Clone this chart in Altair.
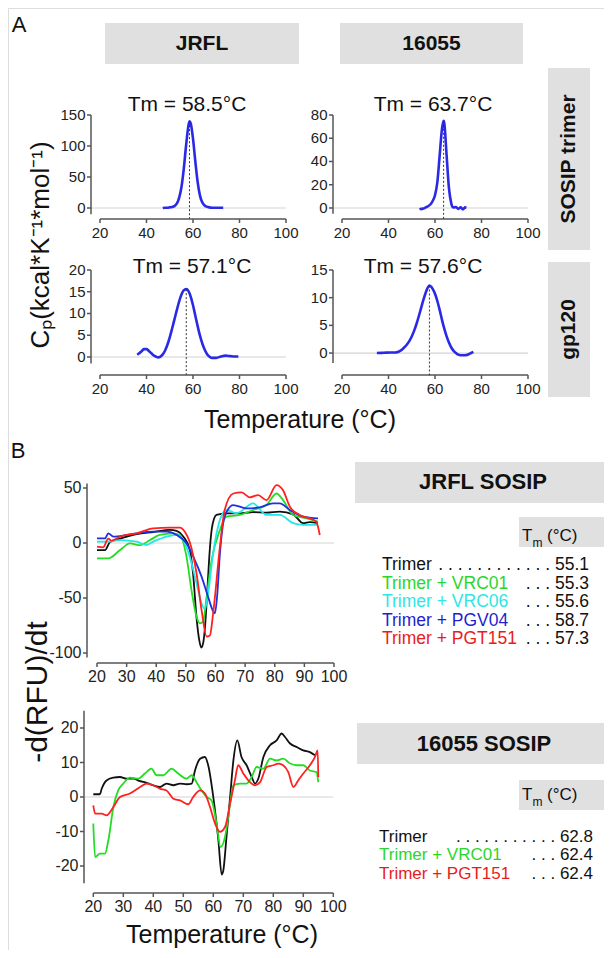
import altair as alt
import pandas as pd

FONT = "Liberation Sans"
W, H = 596, 942
BOX_GRAY = "#e0e0e0"
A_BLUE = "#2a2ae6"
AXIS_COL = "#555555"
LABEL_COL = "#222222"

# ---------------- Panel A data (Cp vs temperature) ----------------
A_X_TICKS = [20, 40, 60, 80, 100]

TL_T = [47, 48, 49, 50, 51, 52, 53, 54, 55, 56, 57, 58, 58.5, 59, 60, 61, 62, 63, 64, 65, 66, 67, 68, 70, 73]
TL_V = [0, 0.5, 0.5, 1, 1.5, 3, 7, 16, 33, 62, 100, 132, 140, 137, 112, 75, 42, 20, 9, 4, 2, 1, 0.5, 0.3, 0.3]

TR_T = [53.5, 54, 55, 56, 57, 58, 59, 60, 61, 62, 63, 63.7, 64, 65, 66, 67, 67.5, 68, 69, 70, 71, 72, 73, 73.5]
TR_V = [0, -1, -0.5, 0.5, 1.5, 3, 6, 11, 22, 45, 68, 75, 73, 45, 17, 4, 1, 0.5, 0.8, -0.8, 0.5, -1.2, 0.5, 0.3]

BL_T = [36, 37, 38, 39, 40, 41, 42, 43, 44, 45, 46, 47, 48, 49, 50, 51, 52, 53, 54, 55, 56, 57.1,
        58, 59, 60, 61, 62, 63, 64, 65, 66, 67, 68, 70, 72, 74, 76, 78, 79.5]
BL_V = [0.5, 0.9, 1.4, 1.8, 1.8, 1.4, 0.9, 0.4, 0.1, -0.1, 0.1, 0.6, 1.5, 2.8, 4.5, 6.5, 8.6, 10.7, 12.7, 14.3, 15.3, 15.6,
        15.2, 13.9, 11.9, 9.5, 7.1, 4.9, 3.1, 1.7, 0.7, 0.1, -0.2, -0.2, 0.1, 0.3, 0.2, 0.1, 0.1]

BR_T = [35, 38, 41, 43, 44, 45, 46, 47, 48, 49, 50, 51, 52, 53, 54, 55, 56, 57, 57.6,
        58, 59, 60, 61, 62, 63, 64, 65, 66, 67, 68, 69, 70, 71, 72, 73, 74, 75, 76.5]
BR_V = [0, 0.05, 0.1, 0.1, 0.2, 0.4, 0.7, 1.1, 1.6, 2.2, 3.0, 4.0, 5.2, 6.6, 8.1, 9.6, 10.9, 11.9, 12.2,
        12.1, 11.6, 10.7, 9.4, 7.8, 6.0, 4.4, 3.0, 1.9, 1.0, 0.4, 0.0, -0.3, -0.4, -0.4, -0.4, -0.3, -0.1, 0.2]

A_TM = [58.5, 63.7, 57.1, 57.6]
A_PEAK = [140, 75, 15.6, 12.2]
A_RULE_BOTTOM = [-17, -9.5, -4.1, -4.0]
A_TITLES = ["Tm = 58.5°C", "Tm = 63.7°C", "Tm = 57.1°C", "Tm = 57.6°C"]
A_YDOMAINS = [[-10, 150], [-5, 80], [-1.5, 20], [-1.8, 15]]
A_YTICKS = [[0, 50, 100, 150], [0, 20, 40, 60, 80], [0, 5, 10, 15, 20], [0, 5, 10, 15]]

# ---------------- Panel B data (-d(RFU)/dt vs temperature) ----------------
B_X_TICKS = [20, 30, 40, 50, 60, 70, 80, 90, 100]
BT_YDOMAIN = [-104, 54]
BT_YTICKS = [-100, -50, 0, 50]
BB_YDOMAIN = [-25, 25]
BB_YTICKS = [-20, -10, 0, 10, 20]

JT_BLACK_T = [20, 22.7, 24.4, 27.8, 33.4, 39.0, 44.6, 46.9, 49.1, 51.3, 52.5, 53.6, 54.5, 55.2, 55.9, 56.5, 57.3, 58.1,
              58.7, 59.5, 60.3, 63.7, 68.2, 72.7, 77.2, 81.7, 86.2, 89.6, 91.8, 94.6]
JT_BLACK_V = [-6.4, -6.4, 1, 4, 8, 10, 12, 11, 6, -6, -30, -68, -88, -95, -90, -75, -40, -5,
              12, 22, 25.5, 27, 27, 28, 27.6, 28.5, 26, 18, 19, 18]
JT_GREEN_T = [20, 23.8, 27.8, 31.1, 34.5, 37.9, 41.2, 45.7, 48.0, 50.2, 51.9, 53.6, 54.7, 55.8, 57.0, 58.7, 61.5,
              63.7, 68.2, 72.7, 77.2, 80.6, 82.8, 86.2, 90.7, 94.6]
JT_GREEN_V = [-14, -14, -6.4, -0.3, -2, 2.7, 7.3, 8.8, 7.3, -12.4, -43, -67, -73, -71.5, -49, -15.5, 11.8,
              24, 25.5, 30, 34.5, 45, 39, 25.5, 22.4, 19.4]
JT_CYAN_T = [20, 23.3, 27.8, 33.4, 36.7, 39.0, 43.5, 46.9, 49.1, 51.3, 53.6, 55.3, 56.4, 57.5, 59.2, 61.5, 63.7,
             67.1, 72.7, 77.2, 81.7, 86.2, 89.6, 94.6]
JT_CYAN_V = [1.2, 1.2, 2.7, 1.2, -1.8, 1.2, 5.8, 7.3, 2.7, -12.4, -36.7, -55, -60, -45.8, -9.4, 21, 30,
             27, 36, 25.5, 25.5, 18, 16.4, 16.4]
JT_BLUE_T = [20, 22.7, 23.8, 25.5, 30.0, 33.4, 39.0, 43.5, 46.9, 50.2, 52.5, 55.3, 57.5, 59.2, 59.8, 60.5, 61.5,
             63.1, 66.0, 70.4, 74.9, 79.4, 81.7, 85.1, 89.6, 94.6]
JT_BLUE_V = [4.2, 4.2, 8.8, 5.8, 7.3, 8.8, 10.3, 10.3, 7.3, -0.3, -12.4, -30.6, -49, -62, -64, -50, -9.4,
             24, 34.5, 31.5, 32.4, 36, 36, 30, 24, 22.4]
JT_RED_T = [20, 22.1, 23.8, 24.9, 27.8, 33.4, 39.0, 44.6, 48.0, 49.7, 51.3, 53.6, 55.3, 57.0, 58.1, 59.2, 61.5,
            63.1, 66.0, 68.8, 71.6, 74.4, 77.2, 80.6, 82.8, 85.1, 88.4, 91.8, 94.0, 95.2]
JT_RED_V = [-3.3, -3.9, 4, 2, 5.8, 8.8, 13.3, 14, 14, 10, 1, -27.6, -61, -85, -84, -64, -3,
            30, 45, 46, 41.5, 43.6, 39, 52.7, 48, 33, 25.5, 22.4, 19.4, 7.3]

ST_BLACK_T = [20.0, 22.2, 22.8, 24.4, 26.7, 28.9, 31.1, 33.3, 35.6, 37.8, 40.0, 42.2, 44.4, 46.7, 48.9, 51.1, 52.8,
              53.9, 55.6, 57.2, 58.3, 60.0, 61.7, 62.8, 63.3, 64.4, 65.6, 66.7, 68.0, 69.4, 71.1, 72.8, 73.9, 75.0,
              76.7, 78.9, 81.1, 82.8, 83.9, 85.6, 87.8, 90.0, 92.2, 93.9]
ST_BLACK_V = [0.8, 0.8, 2.4, 4.8, 5.6, 5.8, 5.3, 5.3, 4.6, 4.1, 3.4, 2.9, 3.9, 3.4, 3.9, 3.7, 3.9,
              7.7, 11.1, 11.6, 9.2, 0, -12.6, -22.5, -21.5, -11.6, 0, 10.6, 16.4, 11.6, 9.2, 5.8, 3.9, 5.3,
              11.6, 15, 16.4, 18.4, 17.4, 15.5, 14.5, 13.5, 13, 12.1]
ST_GREEN_T = [20.0, 20.6, 22.2, 23.9, 25.0, 26.7, 28.3, 30.0, 32.2, 35.0, 37.2, 39.4, 41.1, 43.3, 46.1, 48.3, 51.1,
              52.8, 54.4, 56.1, 57.8, 59.4, 61.1, 62.4, 63.9, 65.0, 66.7, 68.9, 71.1, 72.8, 74.4, 76.7, 78.9, 81.1,
              83.3, 85.6, 87.8, 90.0, 92.2, 94.4, 95.0]
ST_GREEN_V = [-7.7, -17.4, -16.4, -16.4, -12.6, -2.9, 1.9, 3.9, 5.6, 5.3, 6.8, 8.2, 6.3, 6.3, 8.2, 6.8, 5.3,
              6.3, 4.3, 1.9, 0, -1, -7.7, -14.5, -11.6, -5.8, 3.4, 3.9, 3.9, 5.8, 8.7, 8.2, 11.1, 10.6,
              11.1, 9.7, 9.2, 9.2, 7.7, 7.2, 4.3]
ST_RED_T = [20.0, 20.6, 22.8, 24.4, 26.7, 28.9, 32.2, 35.6, 37.8, 40.0, 42.2, 44.4, 46.7, 48.9, 51.7, 53.3, 55.6,
            57.2, 58.9, 60.6, 62.2, 63.9, 65.6, 67.2, 68.3, 70.0, 72.2, 73.9, 75.6, 77.8, 80.0, 81.7, 83.3, 85.0,
            86.7, 88.3, 90.0, 92.2, 93.9, 94.8, 95.0]
ST_RED_V = [-2.4, -4.8, -4.8, -5.3, -2.9, 0, 1, 2.9, 3.9, 3.4, 2.4, 1.9, -0.5, -1, -2.1, 0, 1.9,
            1, -2.9, -7.7, -10.1, -8.7, -1.9, 4.8, 9.2, 6.8, 4.3, 3.4, 4.3, 8.7, 9.2, 9.7, 9.2, 7.2,
            2.9, 4.8, 6.8, 9.2, 11.6, 13.5, 5.8]

JRFL_LABELS = ["Trimer", "Trimer + VRC01", "Trimer + VRC06", "Trimer + PGV04", "Trimer + PGT151"]
JRFL_TMS = ["55.1", "55.3", "55.6", "58.7", "57.3"]
S16055_LABELS = ["Trimer", "Trimer + VRC01", "Trimer + PGT151"]
S16055_TMS = ["62.8", "62.4", "62.4"]

LINE_COL = {"Trimer": "#111111", "Trimer + VRC01": "#22dd22", "Trimer + VRC06": "#22e8e8",
            "Trimer + PGV04": "#2030e0", "Trimer + PGT151": "#ff2020"}
TEXT_COL = {"Trimer": "#111111", "Trimer + VRC01": "#2bd62b", "Trimer + VRC06": "#2ee6e6",
            "Trimer + PGV04": "#1f1fd1", "Trimer + PGT151": "#e81c1c"}


# ---------------- helpers ----------------
def label(text, x, y, size, weight="normal", color="#111111", angle=0, align="center"):
    return alt.Chart(alt.Data(values=[{"t": text}])).mark_text(
        font=FONT, fontSize=size, fontWeight=weight, color=color, angle=angle,
        align=align, baseline="middle").encode(x=alt.value(x), y=alt.value(y), text="t:N")


def box(x0, y0, x1, y1):
    return alt.Chart(alt.Data(values=[{"b": 1}])).mark_rect(color=BOX_GRAY).encode(
        x=alt.value(x0), x2=alt.value(x1), y=alt.value(y0), y2=alt.value(y1))


def baseline(xs, ys, start):
    return alt.Chart(pd.DataFrame({"x": [start], "x2": [100], "y": [0]})).mark_rule(
        color="#d4d4d4", strokeWidth=1.2).encode(
        x=alt.X("x:Q", scale=xs, axis=None), x2="x2:Q", y=alt.Y("y:Q", scale=ys, axis=None))


def axes(xs, ys, xticks, yticks, ydom, xpx, ypx, fsize, xpad):
    """Axis lines, ticks and labels drawn through the panel's own scales."""
    xt = pd.DataFrame({"v": xticks, "s": [str(t) for t in xticks]})
    yt = pd.DataFrame({"v": yticks, "s": [str(t) for t in yticks]})
    dom_x = alt.Chart(pd.DataFrame({"a": [xticks[0]], "b": [xticks[-1]]})).mark_rule(
        color=AXIS_COL, strokeWidth=1.5).encode(
        x=alt.X("a:Q", scale=xs, axis=None), x2="b:Q", y=alt.value(ypx))
    tick_x = alt.Chart(xt).mark_rule(color=AXIS_COL, strokeWidth=1.5).encode(
        x=alt.X("v:Q", scale=xs, axis=None), y=alt.value(ypx), y2=alt.value(ypx + 4))
    lab_x = alt.Chart(xt).mark_text(font=FONT, fontSize=fsize, color=LABEL_COL, baseline="top").encode(
        x=alt.X("v:Q", scale=xs, axis=None), y=alt.value(ypx + 4 + xpad), text="s:N")
    dom_y = alt.Chart(pd.DataFrame({"a": [ydom[0]], "b": [ydom[1]]})).mark_rule(
        color=AXIS_COL, strokeWidth=1.5).encode(
        x=alt.value(xpx), y=alt.Y("a:Q", scale=ys, axis=None), y2="b:Q")
    tick_y = alt.Chart(yt).mark_rule(color=AXIS_COL, strokeWidth=1.5).encode(
        x=alt.value(xpx - 4), x2=alt.value(xpx), y=alt.Y("v:Q", scale=ys, axis=None))
    lab_y = alt.Chart(yt).mark_text(font=FONT, fontSize=fsize, color=LABEL_COL, align="right",
                                    baseline="middle").encode(
        x=alt.value(xpx - 5.5), y=alt.Y("v:Q", scale=ys, axis=None), text="s:N")
    return [dom_x, tick_x, lab_x, dom_y, tick_y, lab_y]


def dsc_panel(i, T, V, xr, yr, xpx, ypx):
    xs = alt.Scale(domain=[20, 100], range=xr, nice=False, zero=False)
    ys = alt.Scale(domain=A_YDOMAINS[i], range=yr, nice=False, zero=False)
    curve = alt.Chart(pd.DataFrame({"T": T, "V": V})).mark_line(
        color=A_BLUE, strokeWidth=2.6, interpolate="monotone").encode(
        x=alt.X("T:Q", scale=xs, axis=None), y=alt.Y("V:Q", scale=ys, axis=None))
    rule = alt.Chart(pd.DataFrame({"x": [A_TM[i]], "y": [A_PEAK[i]], "y2": [A_RULE_BOTTOM[i]]})).mark_rule(
        color="#333333", strokeWidth=1, strokeDash=[2, 2]).encode(
        x=alt.X("x:Q", scale=xs, axis=None), y=alt.Y("y:Q", scale=ys, axis=None), y2="y2:Q")
    return alt.layer(baseline(xs, ys, 16),
                     *axes(xs, ys, A_X_TICKS, A_YTICKS[i], A_YDOMAINS[i], xpx, ypx, 15, 3),
                     curve, rule)


def dsf_panel(series, xr, yd, yr, yticks, xpx, ypx, base_start):
    xs = alt.Scale(domain=[20, 100], range=xr, nice=False, zero=False)
    ys = alt.Scale(domain=yd, range=yr, nice=False, zero=False)
    layers = [baseline(xs, ys, base_start)] + axes(xs, ys, B_X_TICKS, yticks, yd, xpx, ypx, 16, 2)
    for name, T, V in series:
        layers.append(alt.Chart(pd.DataFrame({"T": T, "V": V})).mark_line(
            color=LINE_COL[name], strokeWidth=1.8, interpolate="monotone").encode(
            x=alt.X("T:Q", scale=xs, axis=None), y=alt.Y("V:Q", scale=ys, axis=None)))
    return alt.layer(*layers)


layers = []

# ---------------- Panel A ----------------
layers += [label("A", 11, 17, 22)]
layers += [box(97, 15, 291, 56), label("JRFL", 194, 35.5, 21, "bold"),
           box(332, 15, 515, 56), label("16055", 423.5, 35.5, 21, "bold"),
           box(540, 60, 582, 242), label("SOSIP trimer", 561, 151, 21, "bold", angle=270),
           box(540, 254, 582, 389), label("gp120", 561, 321.5, 21, "bold", angle=270)]

layers.append(dsc_panel(0, TL_T, TL_V, [92, 278], [206.2, 107], 83, 211))
layers.append(dsc_panel(1, TR_T, TR_V, [334, 520], [205.8, 107], 325, 211))
layers.append(dsc_panel(2, BL_T, BL_V, [92, 278], [355.5, 262], 83, 367))
layers.append(dsc_panel(3, BR_T, BR_V, [334, 520], [355, 262], 325, 367))

layers += [label(A_TITLES[0], 179, 97, 21), label(A_TITLES[1], 425, 97, 21),
           label(A_TITLES[2], 184, 259, 21), label(A_TITLES[3], 415, 259, 21)]
layers += [label("Cₚ(kcal*K⁻¹*mol⁻¹)", 33, 237, 26, angle=270),
           label("Temperature (°C)", 292, 412, 25)]

# ---------------- Panel B ----------------
layers += [label("B", 10, 443, 22)]
layers.append(dsf_panel(
    [("Trimer", JT_BLACK_T, JT_BLACK_V), ("Trimer + VRC01", JT_GREEN_T, JT_GREEN_V),
     ("Trimer + VRC06", JT_CYAN_T, JT_CYAN_V), ("Trimer + PGV04", JT_BLUE_T, JT_BLUE_V),
     ("Trimer + PGT151", JT_RED_T, JT_RED_V)],
    [89, 326], BT_YDOMAIN, [649.4, 475.6], BT_YTICKS, 79, 655, 20))
layers.append(dsf_panel(
    [("Trimer", ST_BLACK_T, ST_BLACK_V), ("Trimer + VRC01", ST_GREEN_T, ST_GREEN_V),
     ("Trimer + PGT151", ST_RED_T, ST_RED_V)],
    [85.3, 325.3], BB_YDOMAIN, [875.25, 702.75], BB_YTICKS, 76, 885, 17))
layers += [label("-d(RFU)/dt", 30, 684, 30, angle=270),
           label("Temperature (°C)", 214, 927, 25)]

# legends / headers of panel B
layers += [box(347, 454, 596, 495), label("JRFL SOSIP", 475, 474, 22, "bold"),
           box(511, 509, 596, 539), label("T", 514, 528, 17, align="left"),
           label("m", 524.5, 535, 12, align="left"), label("(°C)", 539, 528, 17, align="left")]
for i, (lab, tm) in enumerate(zip(JRFL_LABELS, JRFL_TMS)):
    y = 557 + i * 18.5
    dots = " ".join(["."] * (12 if i == 0 else 3))
    layers += [label(lab, 374, y, 17.5, color=TEXT_COL[lab], align="left"),
               label(dots + " " + tm, 581, y, 17.5, align="right")]

layers += [box(349, 715, 596, 756), label("16055 SOSIP", 476, 736, 22, "bold"),
           box(511, 772, 596, 802), label("T", 514, 787, 17, align="left"),
           label("m", 524.5, 794, 12, align="left"), label("(°C)", 539, 787, 17, align="left")]
for i, (lab, tm) in enumerate(zip(S16055_LABELS, S16055_TMS)):
    y = 829 + i * 18.3
    dots = " ".join(["."] * (11 if i == 0 else 3))
    layers += [label(lab, 371, y, 17, color=TEXT_COL[lab], align="left"),
               label(dots + " " + tm, 585, y, 17, align="right")]

chart = alt.layer(*layers).resolve_scale(x="independent", y="independent").properties(
    width=W, height=H, padding=0, autosize=alt.AutoSizeParams(type="none")
).configure_view(strokeWidth=0, stroke="transparent").configure(background="white", font=FONT)

chart.save("out.html", embed_options={"renderer": "svg", "actions": False})
